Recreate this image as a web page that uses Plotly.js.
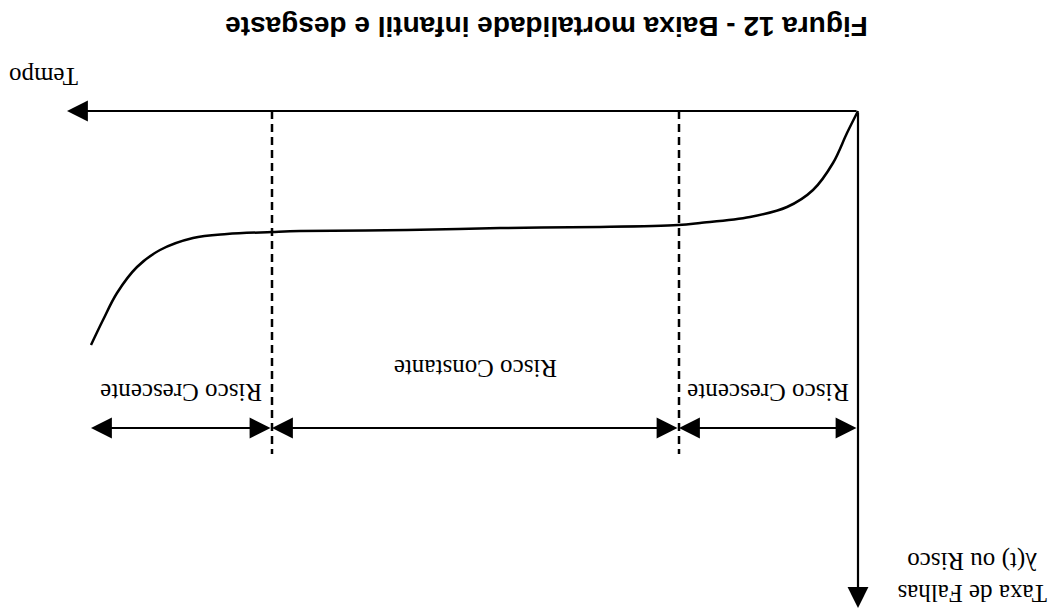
<!DOCTYPE html>
<html>
<head>
<meta charset="utf-8">
<script src="https://cdn.plot.ly/plotly-3.0.1.min.js"></script>
<style>
  html, body { margin: 0; padding: 0; background: #fff; }
  #chart { width: 1060px; height: 612px; }
</style>
</head>
<body>
<div id="chart"></div>
<script>
// bathtub curve (time vs failure rate), the scan is upside down so both axes are reversed
let tempo = [0, 1.1, 2.5, 4.5, 7.1, 10.8, 15.8, 18.0, 25.8, 35.8, 45.1, 55.8, 58.6, 63.1, 66.5, 69.8, 72.1, 74.1, 75.5, 76.7];
let risco = [0, 2.2, 5.2, 7.9, 9.6, 10.6, 11.2, 11.4, 11.6, 11.7, 11.9, 12.0, 12.1, 12.3, 12.7, 13.9, 15.6, 18.2, 20.9, 23.4];

// phase limits along the time axis
let limites = [0, 17.9, 58.6, 76.7];
let fases = ["Risco Crescente", "Risco Constante", "Risco Crescente"];

let eixoTempoFim = 79.1;
let eixoRiscoFim = 49.7;
let nivelSetas = 31.7;
let fimTracejado = 34.3;

let serif = "Liberation Serif, Times New Roman, serif";

let curva = {
    x: tempo,
    y: risco,
    mode: "lines",
    line: { color: "#000", width: 2.5, shape: "spline", smoothing: 1 },
    hoverinfo: "skip"
};

// dashed separators between phases
let separadores = limites.slice(1, 3).map(t => ({
    x: [t, t],
    y: [0, fimTracejado],
    mode: "lines",
    line: { color: "#000", width: 2.5, dash: "8px,5px" },
    hoverinfo: "skip"
}));

let anotacoes = [];
let seta = { showarrow: true, arrowhead: 2, arrowsize: 1.9, arrowwidth: 2.2, arrowcolor: "#000", text: "", axref: "x", ayref: "y" };

// axes as arrows
anotacoes.push(Object.assign({}, seta, { x: eixoTempoFim, y: 0, ax: 0, ay: 0 }));
anotacoes.push(Object.assign({}, seta, { x: 0, y: eixoRiscoFim, ax: 0, ay: 0 }));

// double arrows + labels for each phase
for (let i = 0; i < fases.length; i++) {
    anotacoes.push(Object.assign({}, seta, {
        x: limites[i + 1], y: nivelSetas, ax: limites[i], ay: nivelSetas, arrowside: "end+start"
    }));
    anotacoes.push({
        x: (limites[i] + limites[i + 1]) / 2,
        y: i === 1 ? 25.8 : 28.2,
        text: fases[i], showarrow: false, textangle: 180,
        font: { family: serif, size: 25, color: "#000" }
    });
}

anotacoes.push({
    x: 81.4, y: -3.4, text: "Tempo", showarrow: false, textangle: 180,
    font: { family: serif, size: 25, color: "#000" }
});
anotacoes.push({
    x: -11.4, y: 46.6, text: "Taxa de Falhas<br>λ(t) ou Risco", showarrow: false, textangle: 180,
    align: "center", font: { family: serif, size: 25, color: "#000" }
});
anotacoes.push({
    xref: "paper", yref: "paper", x: 0.515, y: 0.957, xanchor: "center", yanchor: "middle",
    text: "Figura 12 - Baixa mortalidade infantil e desgaste", showarrow: false, textangle: 180,
    font: { family: "Liberation Sans, Arial, sans-serif", size: 28, color: "#000", weight: "bold" }
});

let layout = {
    width: 1060,
    height: 612,
    margin: { t: 0, b: 0, l: 0, r: 0 },
    showlegend: false,
    paper_bgcolor: "#fff",
    plot_bgcolor: "#fff",
    xaxis: { range: [85.8, -20.2], visible: false, fixedrange: true },
    yaxis: { range: [50.1, -11.1], visible: false, fixedrange: true },
    annotations: anotacoes
};

Plotly.newPlot("chart", [curva].concat(separadores), layout, { displayModeBar: false, staticPlot: true });
</script>
</body>
</html>
